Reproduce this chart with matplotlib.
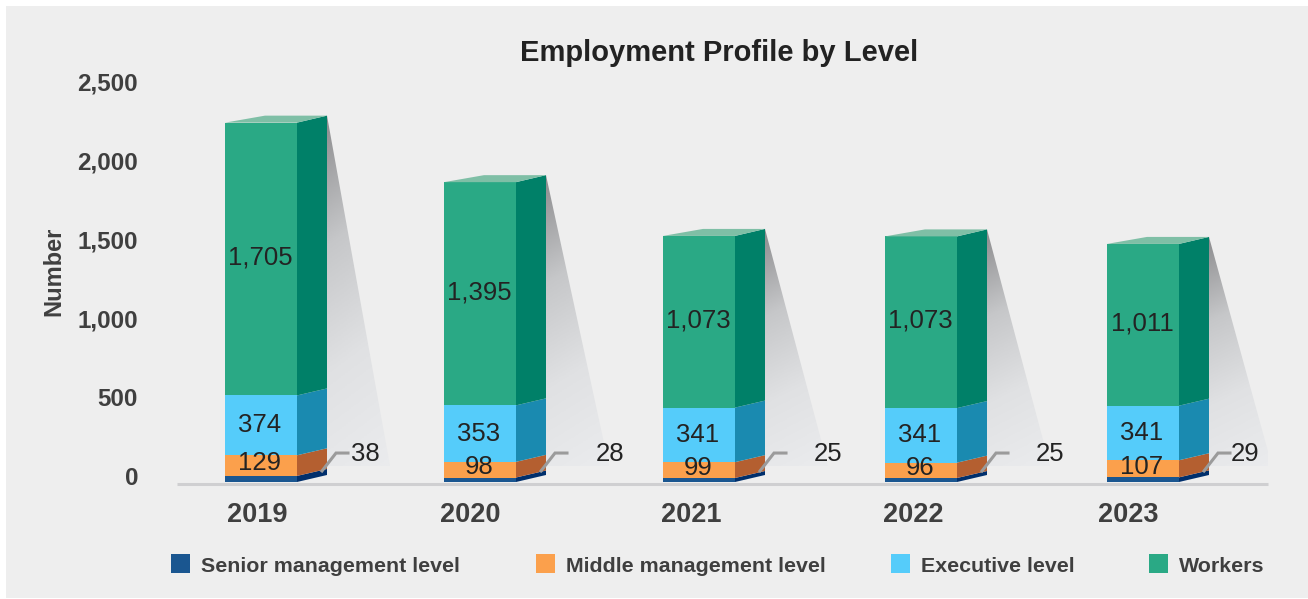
import numpy as np
import matplotlib
matplotlib.use("Agg")
import matplotlib.pyplot as plt
from matplotlib.colors import LinearSegmentedColormap
from matplotlib.patches import Polygon, Rectangle

years = ["2019", "2020", "2021", "2022", "2023"]
senior = [38, 28, 25, 25, 29]
middle = [129, 98, 99, 96, 107]
executive = [374, 353, 341, 341, 341]
workers = [1705, 1395, 1073, 1073, 1011]
y_ticks = [0, 500, 1000, 1500, 2000, 2500]
legend_names = ["Senior management level", "Middle management level", "Executive level", "Workers"]

# layout, x axis runs in pixels of the picture
bar_left = [225, 444, 663, 885, 1107]
year_x = [257, 470, 691, 913, 1128]
outer_x = [365, 610, 828, 1050, 1245]
legend_x = [171, 536, 891, 1149]
bar_w = 72
depth_x = 30
px = 0.16  # pixels per person
depth_y = 7 / px

front = ["#1a5690", "#fba04c", "#55ccfa", "#2aa985"]
side = ["#002f6c", "#b45f30", "#1a8ab0", "#008068"]
top_col = "#7fbfa6"
ink = "#232323"
grey = "#3f3f3f"

plt.rcParams["font.family"] = ["Liberation Sans", "DejaVu Sans"]

fig = plt.figure(figsize=(13.08, 5.99), dpi=100, facecolor="white")
fig.patches.append(Rectangle((6 / 1308, 1 / 599), 1.0, 592 / 599, transform=fig.transFigure,
                             facecolor="#eeeeee", edgecolor="none", zorder=-1))
ax = fig.add_axes([177 / 1308, (599 - 482) / 599, (1268 - 177) / 1308, 410 / 599])
ax.patch.set_visible(False)

shade = LinearSegmentedColormap.from_list("shade", ["#8c8c8e", "#c6c7c9", "#e0e1e3", "#eaebed"])
grad_y, grad_x = np.mgrid[0:1:200j, 0:1:60j]
grad = np.clip(grad_y * 0.9 + grad_x * 0.12, 0, 1)

for i in range(len(years)):
    x0 = bar_left[i]
    x1 = x0 + bar_w
    x2 = x1 + depth_x
    total = senior[i] + middle[i] + executive[i] + workers[i]

    # shadow behind the bar
    tip = total + depth_y
    im = ax.imshow(grad, extent=(x2, x2 + 63, 100, tip), origin="upper", aspect="auto",
                   cmap=shade, vmin=0, vmax=1, zorder=1)
    clip = Polygon([(x2, tip), (x2 + 63, 100), (x2, 100)], transform=ax.transData,
                   facecolor="none", edgecolor="none")
    ax.add_patch(clip)
    im.set_clip_path(clip)

    base = 0
    for j, seg in enumerate([senior[i], middle[i], executive[i], workers[i]]):
        ax.bar(x0, seg, bar_w, bottom=base, align="edge", color=front[j], linewidth=0, zorder=3)
        ax.add_patch(Polygon([(x1, base), (x2, base + depth_y), (x2, base + seg + depth_y), (x1, base + seg)],
                             facecolor=side[j], edgecolor="none", zorder=3, clip_on=False))
        base += seg
    ax.add_patch(Polygon([(x0, total), (x1, total), (x2, tip), (x0 + 40, tip)],
                         facecolor=top_col, edgecolor="none", zorder=3, clip_on=False))

    mid_x = x0 + bar_w / 2 - 1
    ax.text(mid_x, senior[i] + middle[i] / 2 + 14, f"{middle[i]:,}", ha="center", va="center",
            fontsize=18.5, color=ink, zorder=5)
    ax.text(mid_x, senior[i] + middle[i] + executive[i] / 2, f"{executive[i]:,}", ha="center", va="center",
            fontsize=18.5, color=ink, zorder=5)
    ax.text(mid_x, total - workers[i] / 2 + 10, f"{workers[i]:,}", ha="center", va="center",
            fontsize=18.5, color=ink, zorder=5)

    # leader line to the senior figure
    ax.plot([x2 - 5, x2 + 9, x2 + 21], [69, 181, 181], color="#9b9b9b", lw=2.2, zorder=4,
            solid_joinstyle="miter", clip_on=False)
    ax.text(outer_x[i], 175, f"{senior[i]:,}", ha="center", va="center", fontsize=18.5, color=ink, zorder=5)

ax.set_xlim(177, 1268)
ax.set_ylim(0, 410 / px)
for s in ["top", "left", "right"]:
    ax.spines[s].set_visible(False)
ax.spines["bottom"].set_position(("outward", 1.1))
ax.spines["bottom"].set_linewidth(2.2)
ax.spines["bottom"].set_color("#cfcfd1")
ax.spines["bottom"].set_capstyle("butt")

ax.set_xticks(year_x, years, fontsize=19.5, fontweight="bold", color=grey)
# the printed scale sits a little off the bars
ax.set_yticks([v * 79 / 80 + 37 for v in y_ticks], [f"{v:,}" for v in y_ticks],
              fontsize=17.4, fontweight="bold", color=grey)
ax.tick_params(axis="x", length=0, pad=13)
ax.tick_params(axis="y", length=0, pad=28)

fig.text(54 / 1308, 1 - 271 / 599, "Number", rotation=90, ha="center", va="center",
         fontsize=17, fontweight="bold", color=grey)
fig.text(719 / 1308, 1 - 53 / 599, "Employment Profile by Level", ha="center", va="center",
         fontsize=21, fontweight="bold", color="#222222")

for name, lx, col in zip(legend_names, legend_x, front):
    fig.patches.append(Rectangle((lx / 1308, 1 - 573 / 599), 19 / 1308, 19 / 599,
                                 transform=fig.transFigure, facecolor=col, edgecolor="none"))
    fig.text((lx + 30) / 1308, 1 - 566.5 / 599, name, ha="left", va="center",
             fontsize=15.4, fontweight="bold", color=grey)

fig.savefig("out.png", dpi=100)
